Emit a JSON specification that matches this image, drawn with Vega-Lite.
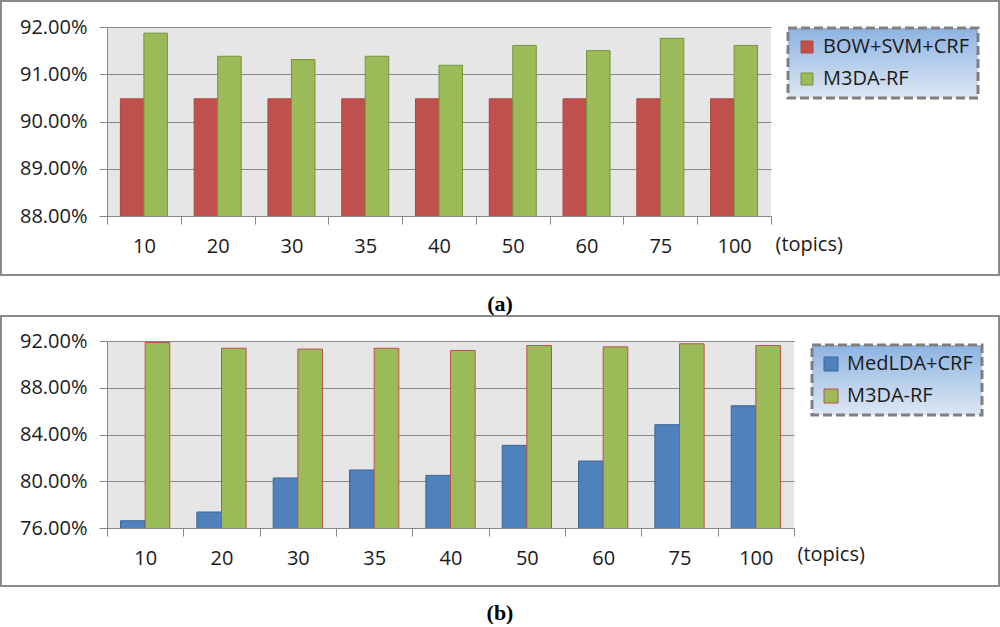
{
  "$schema": "https://vega.github.io/schema/vega-lite/v6.json",
  "background": "white",
  "padding": {"left": 0, "top": 0, "right": 0, "bottom": 0},
  "config": {
    "font": "Open Sans",
    "view": {"fill": "#e6e6e6", "stroke": null},
    "axis": {
      "labelFont": "Open Sans", "labelFontSize": 20, "labelColor": "#1a1a1a",
      "domainColor": "#888888", "tickColor": "#888888", "gridColor": "#888888",
      "domainWidth": 1, "tickWidth": 1, "gridWidth": 1, "tickSize": 8,
      "titleFont": "Open Sans", "titleFontSize": 20, "titleFontWeight": "normal", "titleColor": "#1a1a1a"
    },
    "legend": {
      "labelFont": "Open Sans", "labelFontSize": 20, "labelColor": "#1a1a1a",
      "symbolType": "square", "symbolStrokeWidth": 1, "labelOffset": 6,
      "padding": 9, "rowPadding": 12, "strokeColor": "#7f7f7f", "strokeWidth": 3
    },
    "title": {"font": "Liberation Serif", "fontSize": 22, "fontWeight": "bold", "color": "#000000"}
  },
  "datasets": {
    "a": [
      {"topic": "10", "series": "BOW+SVM+CRF", "value": 0.9048},
      {"topic": "20", "series": "BOW+SVM+CRF", "value": 0.9048},
      {"topic": "30", "series": "BOW+SVM+CRF", "value": 0.9048},
      {"topic": "35", "series": "BOW+SVM+CRF", "value": 0.9048},
      {"topic": "40", "series": "BOW+SVM+CRF", "value": 0.9048},
      {"topic": "50", "series": "BOW+SVM+CRF", "value": 0.9048},
      {"topic": "60", "series": "BOW+SVM+CRF", "value": 0.9048},
      {"topic": "75", "series": "BOW+SVM+CRF", "value": 0.9048},
      {"topic": "100", "series": "BOW+SVM+CRF", "value": 0.9048},
      {"topic": "10", "series": "M3DA-RF", "value": 0.9187},
      {"topic": "20", "series": "M3DA-RF", "value": 0.9138},
      {"topic": "30", "series": "M3DA-RF", "value": 0.9131},
      {"topic": "35", "series": "M3DA-RF", "value": 0.9138},
      {"topic": "40", "series": "M3DA-RF", "value": 0.9119},
      {"topic": "50", "series": "M3DA-RF", "value": 0.9161},
      {"topic": "60", "series": "M3DA-RF", "value": 0.9150},
      {"topic": "75", "series": "M3DA-RF", "value": 0.9176},
      {"topic": "100", "series": "M3DA-RF", "value": 0.9161}
    ],
    "b": [
      {"topic": "10", "series": "MedLDA+CRF", "value": 0.7662},
      {"topic": "20", "series": "MedLDA+CRF", "value": 0.7737},
      {"topic": "30", "series": "MedLDA+CRF", "value": 0.8028},
      {"topic": "35", "series": "MedLDA+CRF", "value": 0.8096},
      {"topic": "40", "series": "MedLDA+CRF", "value": 0.8050},
      {"topic": "50", "series": "MedLDA+CRF", "value": 0.8307},
      {"topic": "60", "series": "MedLDA+CRF", "value": 0.8173},
      {"topic": "75", "series": "MedLDA+CRF", "value": 0.8484},
      {"topic": "100", "series": "MedLDA+CRF", "value": 0.8646},
      {"topic": "10", "series": "M3DA-RF", "value": 0.9187},
      {"topic": "20", "series": "M3DA-RF", "value": 0.9138},
      {"topic": "30", "series": "M3DA-RF", "value": 0.9131},
      {"topic": "35", "series": "M3DA-RF", "value": 0.9138},
      {"topic": "40", "series": "M3DA-RF", "value": 0.9119},
      {"topic": "50", "series": "M3DA-RF", "value": 0.9161},
      {"topic": "60", "series": "M3DA-RF", "value": 0.9150},
      {"topic": "75", "series": "M3DA-RF", "value": 0.9176},
      {"topic": "100", "series": "M3DA-RF", "value": 0.9161}
    ]
  },
  "spacing": 0,
  "resolve": {"scale": {"color": "independent", "stroke": "independent", "xOffset": "independent"}, "legend": {"color": "independent", "stroke": "independent"}},
  "vconcat": [
    {
      "width": 664,
      "height": 189,
      "title": {"text": "(a)", "orient": "bottom", "anchor": "middle", "offset": 18, "frame": "bounds"},
      "resolve": {"scale": {"x": "independent", "y": "independent"}},
      "layer": [
        {
          "data": {"values": [{"frame": 1}]},
          "mark": {"type": "rect", "fill": "white", "fillOpacity": 0, "stroke": "#8a8a8a", "strokeWidth": 2},
          "encoding": {
            "x": {"datum": 0, "type": "quantitative", "scale": {"domain": [0, 1], "range": [-106, 892]}, "axis": null},
            "x2": {"datum": 1},
            "y": {"datum": 0, "type": "quantitative", "scale": {"domain": [0, 1], "range": [-26, 248]}, "axis": null},
            "y2": {"datum": 1}
          }
        },
        {
          "data": {"name": "a"},
          "mark": {"type": "bar", "strokeWidth": 1, "clip": true},
          "encoding": {
            "x": {
              "field": "topic", "type": "nominal",
              "sort": ["10", "20", "30", "35", "40", "50", "60", "75", "100"],
              "scale": {"paddingInner": 0, "paddingOuter": 0},
              "axis": {"labelAngle": 0, "tickBand": "extent", "labelPadding": 12, "grid": false,
                       "title": "(topics)", "titleX": 668, "titleY": 34, "titleAlign": "left", "titleBaseline": "alphabetic"}
            },
            "xOffset": {"field": "series", "type": "nominal", "sort": ["BOW+SVM+CRF", "M3DA-RF"],
                        "scale": {"paddingInner": 0, "paddingOuter": 0.57}},
            "y": {
              "field": "value", "type": "quantitative",
              "scale": {"domain": [0.88, 0.92], "zero": false, "nice": false},
              "axis": {"values": [0.88, 0.89, 0.90, 0.91, 0.92], "format": ".2%", "grid": true, "labelPadding": 12, "title": null}
            },
            "color": {
              "field": "series", "type": "nominal",
              "scale": {"domain": ["BOW+SVM+CRF", "M3DA-RF"], "range": ["#c0504d", "#9bbb59"]},
              "legend": {
                "orient": "none", "legendX": 681, "legendY": 1, "title": null, "symbolSize": 144,
                "encode": {"legend": {"update": {
                  "fill": {"value": {"gradient": "linear", "x1": 0, "y1": 0, "x2": 0, "y2": 1,
                    "stops": [{"offset": 0, "color": "#8db3e2"}, {"offset": 1, "color": "#dde7f3"}]}},
                  "stroke": {"value": "#7f7f7f"}, "strokeWidth": {"value": 3}, "strokeDash": {"value": [9, 4]}
                }}}
              }
            },
            "stroke": {
              "field": "series", "type": "nominal",
              "scale": {"domain": ["BOW+SVM+CRF", "M3DA-RF"], "range": ["#b0443f", "#77933c"]},
              "legend": {
                "orient": "none", "legendX": 681, "legendY": 1, "title": null, "symbolSize": 144
              }
            }
          }
        }
      ]
    },
    {
      "width": 687,
      "height": 187,
      "title": {"text": "(b)", "orient": "bottom", "anchor": "middle", "offset": 16, "frame": "bounds"},
      "resolve": {"scale": {"x": "independent", "y": "independent"}},
      "layer": [
        {
          "data": {"values": [{"frame": 1}]},
          "mark": {"type": "rect", "fill": "white", "fillOpacity": 0, "stroke": "#8a8a8a", "strokeWidth": 2},
          "encoding": {
            "x": {"datum": 0, "type": "quantitative", "scale": {"domain": [0, 1], "range": [-106, 892]}, "axis": null},
            "x2": {"datum": 1},
            "y": {"datum": 0, "type": "quantitative", "scale": {"domain": [0, 1], "range": [-25, 245]}, "axis": null},
            "y2": {"datum": 1}
          }
        },
        {
          "data": {"name": "b"},
          "mark": {"type": "bar", "strokeWidth": 1, "clip": true},
          "encoding": {
            "x": {
              "field": "topic", "type": "nominal",
              "sort": ["10", "20", "30", "35", "40", "50", "60", "75", "100"],
              "scale": {"paddingInner": 0, "paddingOuter": 0},
              "axis": {"labelAngle": 0, "tickBand": "extent", "labelPadding": 12, "grid": false,
                       "title": "(topics)", "titleX": 690, "titleY": 32, "titleAlign": "left", "titleBaseline": "alphabetic"}
            },
            "xOffset": {"field": "series", "type": "nominal", "sort": ["MedLDA+CRF", "M3DA-RF"],
                        "scale": {"paddingInner": 0, "paddingOuter": 0.55}},
            "y": {
              "field": "value", "type": "quantitative",
              "scale": {"domain": [0.76, 0.92], "zero": false, "nice": false},
              "axis": {"values": [0.76, 0.80, 0.84, 0.88, 0.92], "format": ".2%", "grid": true, "labelPadding": 12, "title": null}
            },
            "color": {
              "field": "series", "type": "nominal",
              "scale": {"domain": ["MedLDA+CRF", "M3DA-RF"], "range": ["#4f81bd", "#9bbb59"]},
              "legend": {
                "orient": "none", "legendX": 705, "legendY": 4, "title": null, "symbolSize": 196,
                "encode": {"legend": {"update": {
                  "fill": {"value": {"gradient": "linear", "x1": 0, "y1": 0, "x2": 0, "y2": 1,
                    "stops": [{"offset": 0, "color": "#8db3e2"}, {"offset": 1, "color": "#dde7f3"}]}},
                  "stroke": {"value": "#7f7f7f"}, "strokeWidth": {"value": 3}, "strokeDash": {"value": [9, 4]}
                }}}
              }
            },
            "stroke": {
              "field": "series", "type": "nominal",
              "scale": {"domain": ["MedLDA+CRF", "M3DA-RF"], "range": ["#3c6696", "#c0504d"]},
              "legend": {
                "orient": "none", "legendX": 705, "legendY": 4, "title": null, "symbolSize": 196
              }
            }
          }
        }
      ]
    }
  ]
}
